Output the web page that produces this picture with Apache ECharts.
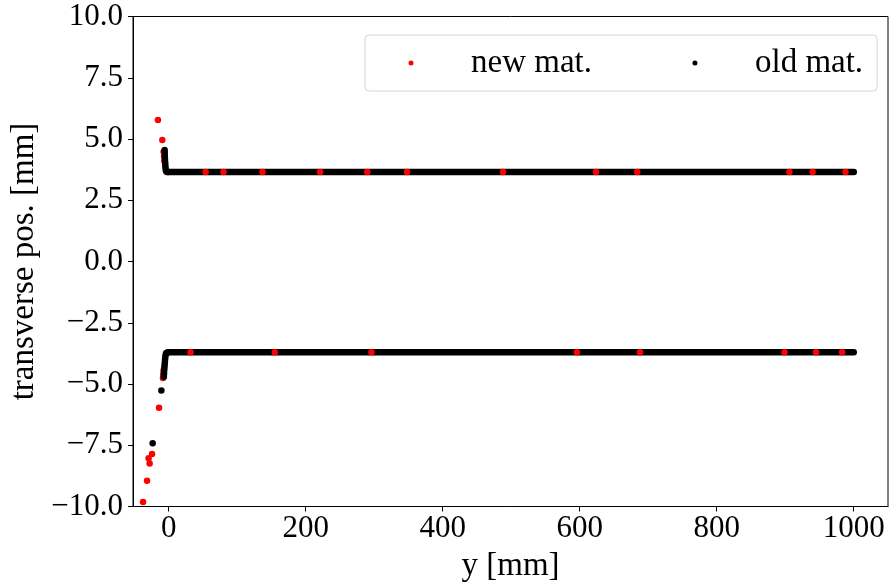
<!DOCTYPE html>
<html>
<head>
<meta charset="utf-8">
<script src="https://cdn.jsdelivr.net/npm/echarts@6/dist/echarts.min.js"></script>
<style>
  html, body { margin: 0; padding: 0; background: #fff; }
  #chart { width: 889px; height: 583px; }
</style>
</head>
<body>
<div id="chart"></div>
<script>
// Tick positions
const xTicks = [0, 200, 400, 600, 800, 1000];
const yTickStep = 2.5;

// Flat tracks of the two materials (transverse position held along y)
const bandX = [0, 1000];
const upperLevel = 3.65;
const lowerLevel = -3.7;

// New material: scattered entry points and spots along the tracks
const newUpperTail = [[-15.6, 5.78], [-9.2, 4.96], [-7.3, 4.48], [-6.6, 4.3], [-6.2, 4.1]];
const newLowerTail = [[-37.3, -9.82], [-31.5, -8.95], [-29.2, -8.03], [-27.7, -8.24],
                      [-24.2, -7.86], [-14.0, -5.97], [-8.2, -4.75], [-7.8, -4.6], [-7.4, -4.45]];
const newUpperBandX = [54, 80, 137, 221, 290, 348, 488, 624, 684, 906, 940, 988];
const newLowerBandX = [32, 155, 296, 596, 688, 899, 945, 983];

// Old material: entry points
const oldUpperTail = [[-5.8, 4.55], [-5.7, 4.45], [-5.6, 4.35], [-5.5, 4.25], [-5.3, 4.15],
                      [-5.1, 4.05], [-4.9, 3.95], [-4.6, 3.85], [-4.2, 3.75], [-3.5, 3.68],
                      [-2.5, 3.65], [-1.0, 3.65]];
const oldLowerTail = [[-23.3, -7.42], [-10.6, -5.27], [-7.0, -4.7], [-6.8, -4.6], [-6.6, -4.5],
                      [-6.4, -4.4], [-6.1, -4.3], [-5.8, -4.2], [-5.5, -4.1], [-5.2, -4.0],
                      [-4.8, -3.9], [-4.3, -3.8], [-3.5, -3.74], [-2.5, -3.72], [-1.0, -3.7]];

const FONT = 'Liberation Serif';
const RED = '#ff0000';
const BLACK = '#000000';
const DOT = 6.5;

const fmtY = v => (v < 0 ? '\u2212' : '') + Math.abs(v).toFixed(1);
const fmtX = v => String(v);

const newData = newUpperTail.concat(newLowerTail)
  .concat(newUpperBandX.map(x => [x, upperLevel]))
  .concat(newLowerBandX.map(x => [x, lowerLevel]));
const oldData = oldUpperTail.concat(oldLowerTail);

const chart = echarts.init(document.getElementById('chart'), null, { renderer: 'canvas' });
chart.setOption({
  animation: false,
  backgroundColor: '#ffffff',
  grid: {
    left: 133, right: 1, top: 16.5, bottom: 76.5,
    outerBoundsMode: 'none', containLabel: false,
    show: true, borderColor: BLACK, borderWidth: 1, backgroundColor: 'transparent'
  },
  xAxis: {
    type: 'value', min: -52, max: 1050,
    name: 'y [mm]', nameLocation: 'middle', nameGap: 25,
    nameTextStyle: { fontFamily: FONT, fontSize: 33, color: BLACK },
    axisLine: { show: true, onZero: false, lineStyle: { color: BLACK, width: 1 } },
    axisTick: { show: true, inside: false, length: 5, customValues: xTicks, lineStyle: { color: BLACK, width: 1 } },
    axisLabel: { customValues: xTicks, formatter: fmtX, fontFamily: FONT, fontSize: 31, color: BLACK, margin: 7 },
    splitLine: { show: false }
  },
  yAxis: {
    type: 'value', min: -10, max: 10, interval: yTickStep,
    name: 'transverse pos. [mm]', nameLocation: 'middle', nameGap: 88,
    nameTextStyle: { fontFamily: FONT, fontSize: 33, color: BLACK },
    axisLine: { show: true, onZero: false, lineStyle: { color: BLACK, width: 1 } },
    axisTick: { show: true, inside: false, length: 5, lineStyle: { color: BLACK, width: 1 } },
    axisLabel: { fontFamily: FONT, fontSize: 31, color: BLACK, margin: 10, formatter: fmtY },
    splitLine: { show: false }
  },
  legend: {
    data: [{ name: 'new mat.', icon: 'circle' }, { name: 'old mat.', icon: 'circle' }],
    left: 365, top: 35,
    padding: [11, 14, 11, 43.5],
    itemWidth: 92, itemHeight: 5, itemGap: 100.5,
    textStyle: { fontFamily: FONT, fontSize: 33, color: BLACK, padding: [0, 0, 0, 9], lineHeight: 34 },
    backgroundColor: 'rgba(255,255,255,0.8)',
    borderColor: '#d5d5d5', borderWidth: 1, borderRadius: 4
  },
  series: [
    {
      name: 'upper track', type: 'line', silent: true, symbol: 'none', z: 1,
      data: bandX.map(x => [x, upperLevel]),
      lineStyle: { color: BLACK, width: DOT, cap: 'round' }
    },
    {
      name: 'lower track', type: 'line', silent: true, symbol: 'none', z: 1,
      data: bandX.map(x => [x, lowerLevel]),
      lineStyle: { color: BLACK, width: DOT, cap: 'round' }
    },
    {
      name: 'new mat.', type: 'scatter', symbol: 'circle', symbolSize: DOT, z: 3,
      itemStyle: { color: RED, opacity: 1 }, data: newData
    },
    {
      name: 'old mat.', type: 'scatter', symbol: 'circle', symbolSize: DOT, z: 4,
      itemStyle: { color: BLACK, opacity: 1 }, data: oldData
    }
  ]
});
</script>
</body>
</html>
